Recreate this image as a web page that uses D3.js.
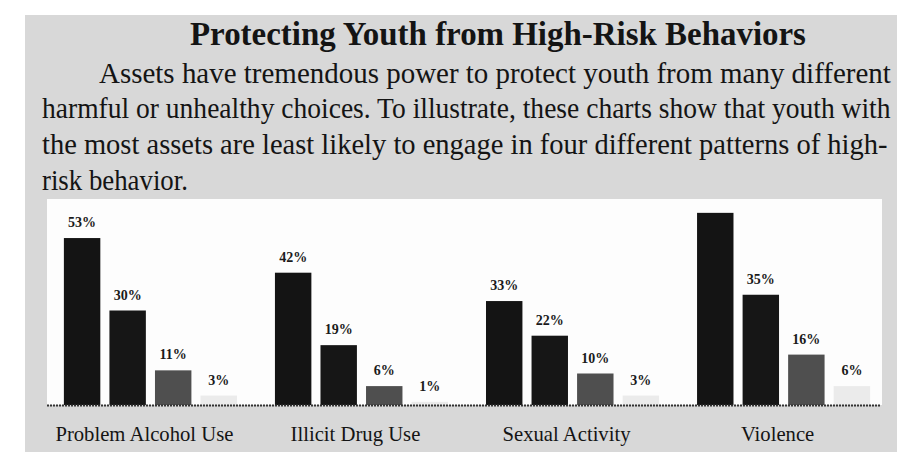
<!DOCTYPE html>
<html>
<head>
<meta charset="utf-8">
<script src="https://cdn.jsdelivr.net/npm/d3@7"></script>
<style>
  html, body { margin: 0; padding: 0; background: #ffffff; }
  svg { display: block; }
  text { font-family: "Liberation Serif", "Times New Roman", Times, serif; }
</style>
</head>
<body>
<svg id="chart" width="897" height="457"></svg>
<script>
// ---- data ----
const titleText = "Protecting Youth from High-Risk Behaviors";
const paragraphLines = [
  "Assets have tremendous power to protect youth from many different",
  "harmful or unhealthy choices. To illustrate, these charts show that youth with",
  "the most assets are least likely to engage in four different patterns of high-",
  "risk behavior."
];
const categories = ["Problem Alcohol Use", "Illicit Drug Use", "Sexual Activity", "Violence"];
const assetLevels = ["0-10 assets", "11-20 assets", "21-30 assets", "31-40 assets"];
const alcoholValues = [53, 30, 11, 3];
const drugValues = [42, 19, 6, 1];
const sexualValues = [33, 22, 10, 3];
const violenceValues = [61, 35, 16, 6];
const violenceLabelShown = [false, true, true, true];

const seriesByCategory = [alcoholValues, drugValues, sexualValues, violenceValues];
const rows = [];
categories.forEach((c, i) => {
  seriesByCategory[i].forEach((v, j) => {
    rows.push({ category: c, level: assetLevels[j], value: v,
      showLabel: i === 3 ? violenceLabelShown[j] : true });
  });
});

// ---- layout ----
const svg = d3.select("#chart");
const W = 897, H = 457;
const panel = { left: 47, right: 882, top: 199, bottom: 405 };

// place a text so that it spans exactly `width` px, by scaling horizontally
function fitText(parent, str, x, y, width, size, weight, anchor) {
  const g = parent.append("g");
  const t = g.append("text").attr("x", 0).attr("y", 0)
    .attr("font-size", size).attr("font-weight", weight || "normal")
    .attr("fill", "#141414").text(str);
  const w = t.node().getComputedTextLength();
  const sx = width / w;
  let left = x;
  if (anchor === "middle") left = x - width / 2;
  g.attr("transform", `translate(${left},${y}) scale(${sx},1)`);
  return t;
}

// paper background
svg.append("rect").attr("x", 25).attr("y", 15).attr("width", W - 25).attr("height", 437)
  .attr("fill", "#d8d8d8");
// white chart panel
svg.append("rect").attr("x", panel.left).attr("y", panel.top)
  .attr("width", panel.right - panel.left).attr("height", panel.bottom - panel.top)
  .attr("fill", "#fdfdfd");

// title
fitText(svg, titleText, 190, 45, 616, 34, "bold");

// paragraph
const paraX = [99, 42, 42, 42];
const paraW = [792, 849, 846, 146];
const paraY = [83, 118, 154, 190];
paragraphLines.forEach((line, i) => {
  fitText(svg, line, paraX[i], paraY[i], paraW[i], 30, "normal");
});

// scales
const x0 = d3.scaleBand().domain(categories).range([47, 887]).paddingInner(0.18).paddingOuter(0.08);
const x1 = d3.scaleBand().domain(assetLevels).range([0, x0.bandwidth()]).paddingInner(0.2).paddingOuter(0);
const y = d3.scaleLinear().domain([0, 65]).range([panel.bottom, panel.bottom - 65 * 3.15]);
const color = d3.scaleOrdinal().domain(assetLevels).range(["#141414", "#161616", "#4f4f4f", "#ebebeb"]);

// bars
const g = svg.append("g");
g.selectAll("rect.bar").data(rows).join("rect")
  .attr("class", "bar")
  .attr("x", d => x0(d.category) + x1(d.level))
  .attr("y", d => y(d.value))
  .attr("width", x1.bandwidth())
  .attr("height", d => y(0) - y(d.value))
  .attr("fill", d => color(d.level));

// value labels
g.selectAll("text.val").data(rows.filter(d => d.showLabel)).join("text")
  .attr("class", "val")
  .attr("x", d => x0(d.category) + x1(d.level) + x1.bandwidth() / 2)
  .attr("y", d => y(d.value) - 11)
  .attr("text-anchor", "middle")
  .attr("font-weight", "bold").attr("font-size", 14)
  .attr("fill", "#1a1a1a")
  .text(d => d.value + "%");

// baseline (dotted)
svg.append("line").attr("x1", panel.left).attr("x2", panel.right - 2)
  .attr("y1", panel.bottom + 0.5).attr("y2", panel.bottom + 0.5)
  .attr("stroke", "#333").attr("stroke-width", 2).attr("stroke-dasharray", "2,1");

// category labels (slightly condensed)
categories.forEach(c => {
  const probe = svg.append("text").attr("font-size", 22).text(c);
  const w = probe.node().getComputedTextLength() * 0.94;
  probe.remove();
  fitText(svg, c, x0(c) + x0.bandwidth() / 2 - 6, 441, w, 22, "normal", "middle");
});
</script>
</body>
</html>
